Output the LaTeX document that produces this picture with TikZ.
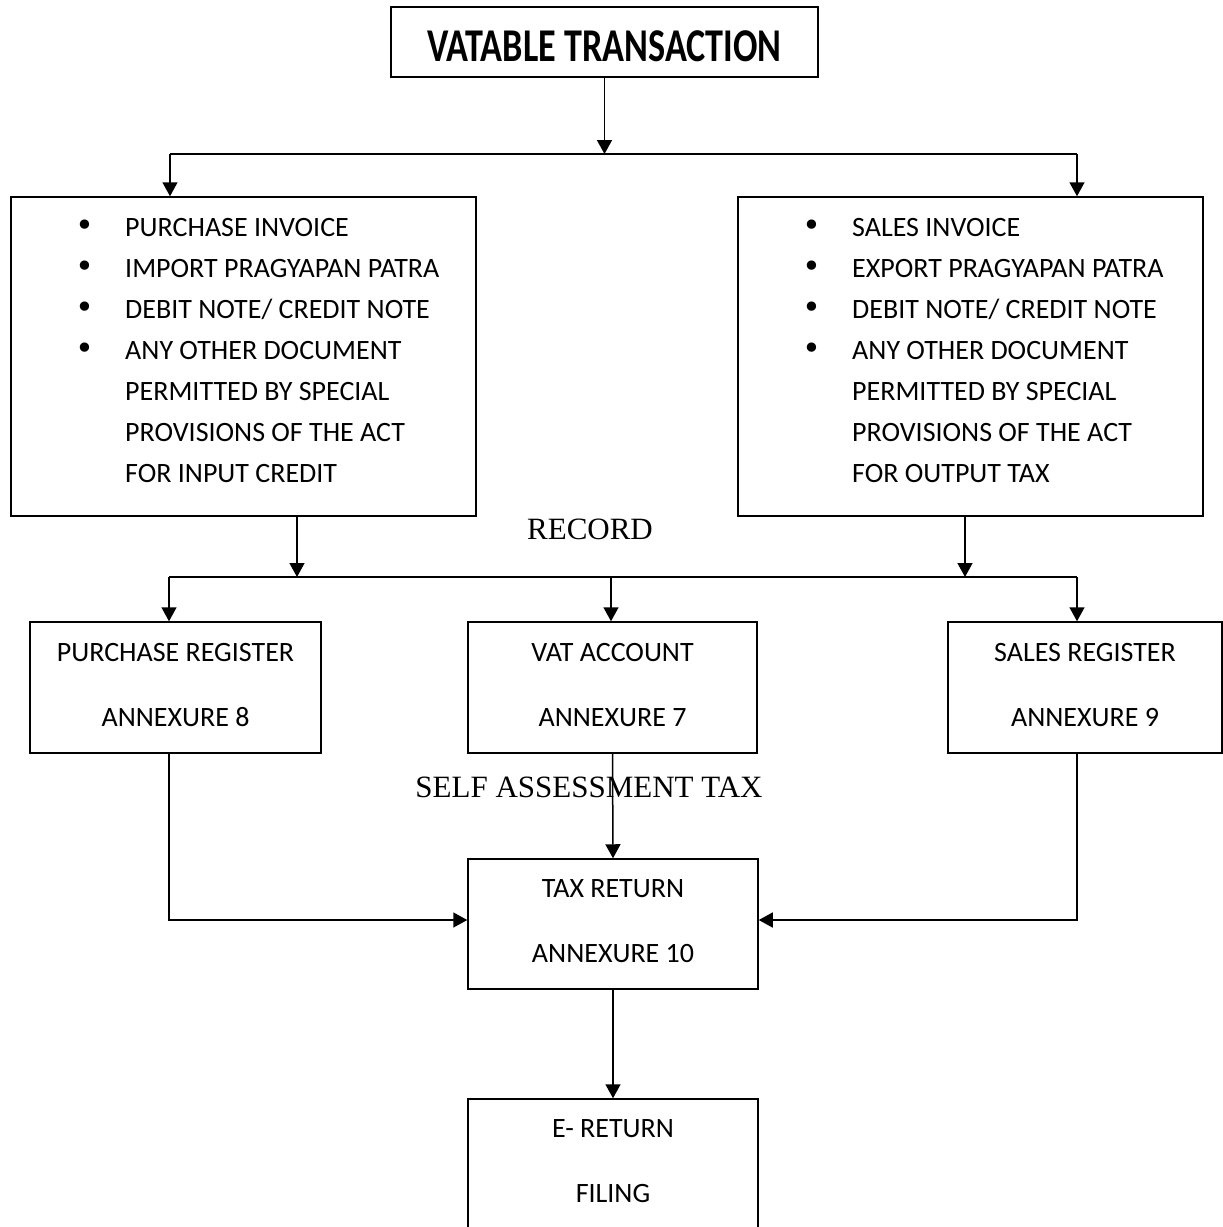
\documentclass[tikz,border=0pt]{standalone}
\usepackage{fontspec}
\setmainfont{Carlito}
\newfontfamily\tnr{Liberation Serif}
\newfontfamily\djv{DejaVu Sans}
\usetikzlibrary{arrows.meta}
\newcommand{\bul}{\makebox[50pt][l]{\djv\fontsize{32}{41}\selectfont •}}
\begin{document}
\begin{tikzpicture}[x=1pt,y=-1pt,
  box/.style={draw, line width=1.5pt, inner sep=0pt, align=center,
    font=\fontsize{28}{65}\selectfont, text depth=6pt},
  bigbox/.style={draw, line width=1.5pt, inner sep=0pt},
  listtxt/.style={anchor=base west, inner sep=0pt, font=\fontsize{28}{41}\selectfont},
  ln/.style={line width=1.5pt},
  arr/.style={ln, -{Triangle[length=14pt,width=15pt]}},
  lbl/.style={font=\tnr\fontsize{31}{31}\selectfont, inner sep=0pt}]
\useasboundingbox (0,0) rectangle (1223,1227);

% nodes
\node[draw, line width=1.5pt, inner sep=0pt, minimum width=427pt, minimum height=70pt,
  font=\bfseries\fontsize{47}{47}\selectfont, text height=38pt, text depth=0pt] (title) at (604.5,42)
  {\scalebox{0.77}[1]{VATABLE TRANSACTION}};

\node[bigbox, minimum width=465pt, minimum height=319pt] (lbox) at (243.5,356.5) {};
\node[listtxt] (ltxt) at (75,236) {\begin{tabular}[t]{@{}l@{}l@{}}
\bul & PURCHASE INVOICE\\
\bul & IMPORT PRAGYAPAN PATRA\\
\bul & DEBIT NOTE/ CREDIT NOTE\\
\bul & ANY OTHER DOCUMENT\\
 & PERMITTED BY SPECIAL\\
 & PROVISIONS OF THE ACT\\
 & FOR INPUT CREDIT
\end{tabular}};

\node[bigbox, minimum width=465pt, minimum height=319pt] (rbox) at (970.5,356.5) {};
\node[listtxt] (rtxt) at (802,236) {\begin{tabular}[t]{@{}l@{}l@{}}
\bul & SALES INVOICE\\
\bul & EXPORT PRAGYAPAN PATRA\\
\bul & DEBIT NOTE/ CREDIT NOTE\\
\bul & ANY OTHER DOCUMENT\\
 & PERMITTED BY SPECIAL\\
 & PROVISIONS OF THE ACT\\
 & FOR OUTPUT TAX
\end{tabular}};

\node[lbl] (record) at (590,529) {RECORD};

\node[box, minimum width=291pt, minimum height=131pt] (preg) at (175.5,687.5)
  {PURCHASE REGISTER\\ANNEXURE 8};
\node[box, minimum width=289pt, minimum height=131pt] (vat) at (612.5,687.5)
  {VAT ACCOUNT\\ANNEXURE 7};
\node[box, minimum width=274pt, minimum height=131pt] (sreg) at (1085,687.5)
  {SALES REGISTER\\ANNEXURE 9};

\node[lbl] (self) at (589,787) {SELF ASSESSMENT TAX};

\node[box, minimum width=290pt, minimum height=130pt] (tax) at (613,924)
  {TAX RETURN\\ANNEXURE 10};
\node[box, minimum width=290pt, minimum height=130pt] (eret) at (613,1164)
  {E- RETURN\\FILING};

% junction coordinates
\coordinate (j1l) at (170,154);
\coordinate (j1r) at (1077,154);
\coordinate (j2a) at (297,577);
\coordinate (j2b) at (965,577);
\coordinate (j2l) at (169,577);
\coordinate (j2m) at (611,577);
\coordinate (j2r) at (1077,577);
\coordinate (bl) at (169,920);
\coordinate (br) at (1077,920);

% connectors
\draw[arr] (title.south) -- (title.south |- j1l);
\draw[ln] (j1l) -- (j1r);
\draw[arr] (j1l) -- (j1l |- lbox.north);
\draw[arr] (j1r) -- (j1r |- rbox.north);

\draw[arr] (j2a |- lbox.south) -- (j2a);
\draw[arr] (j2b |- rbox.south) -- (j2b);
\draw[ln] (j2l) -- (j2r);
\draw[arr] (j2l) -- (j2l |- preg.north);
\draw[arr] (j2m) -- (j2m |- vat.north);
\draw[arr] (j2r) -- (j2r |- sreg.north);

\draw[arr] (vat.south) -- (tax.north);
\draw[arr] (bl |- preg.south) -- (bl) -- (bl -| tax.west);
\draw[arr] (br |- sreg.south) -- (br) -- (br -| tax.east);
\draw[arr] (tax.south) -- (eret.north);
\end{tikzpicture}
\end{document}
